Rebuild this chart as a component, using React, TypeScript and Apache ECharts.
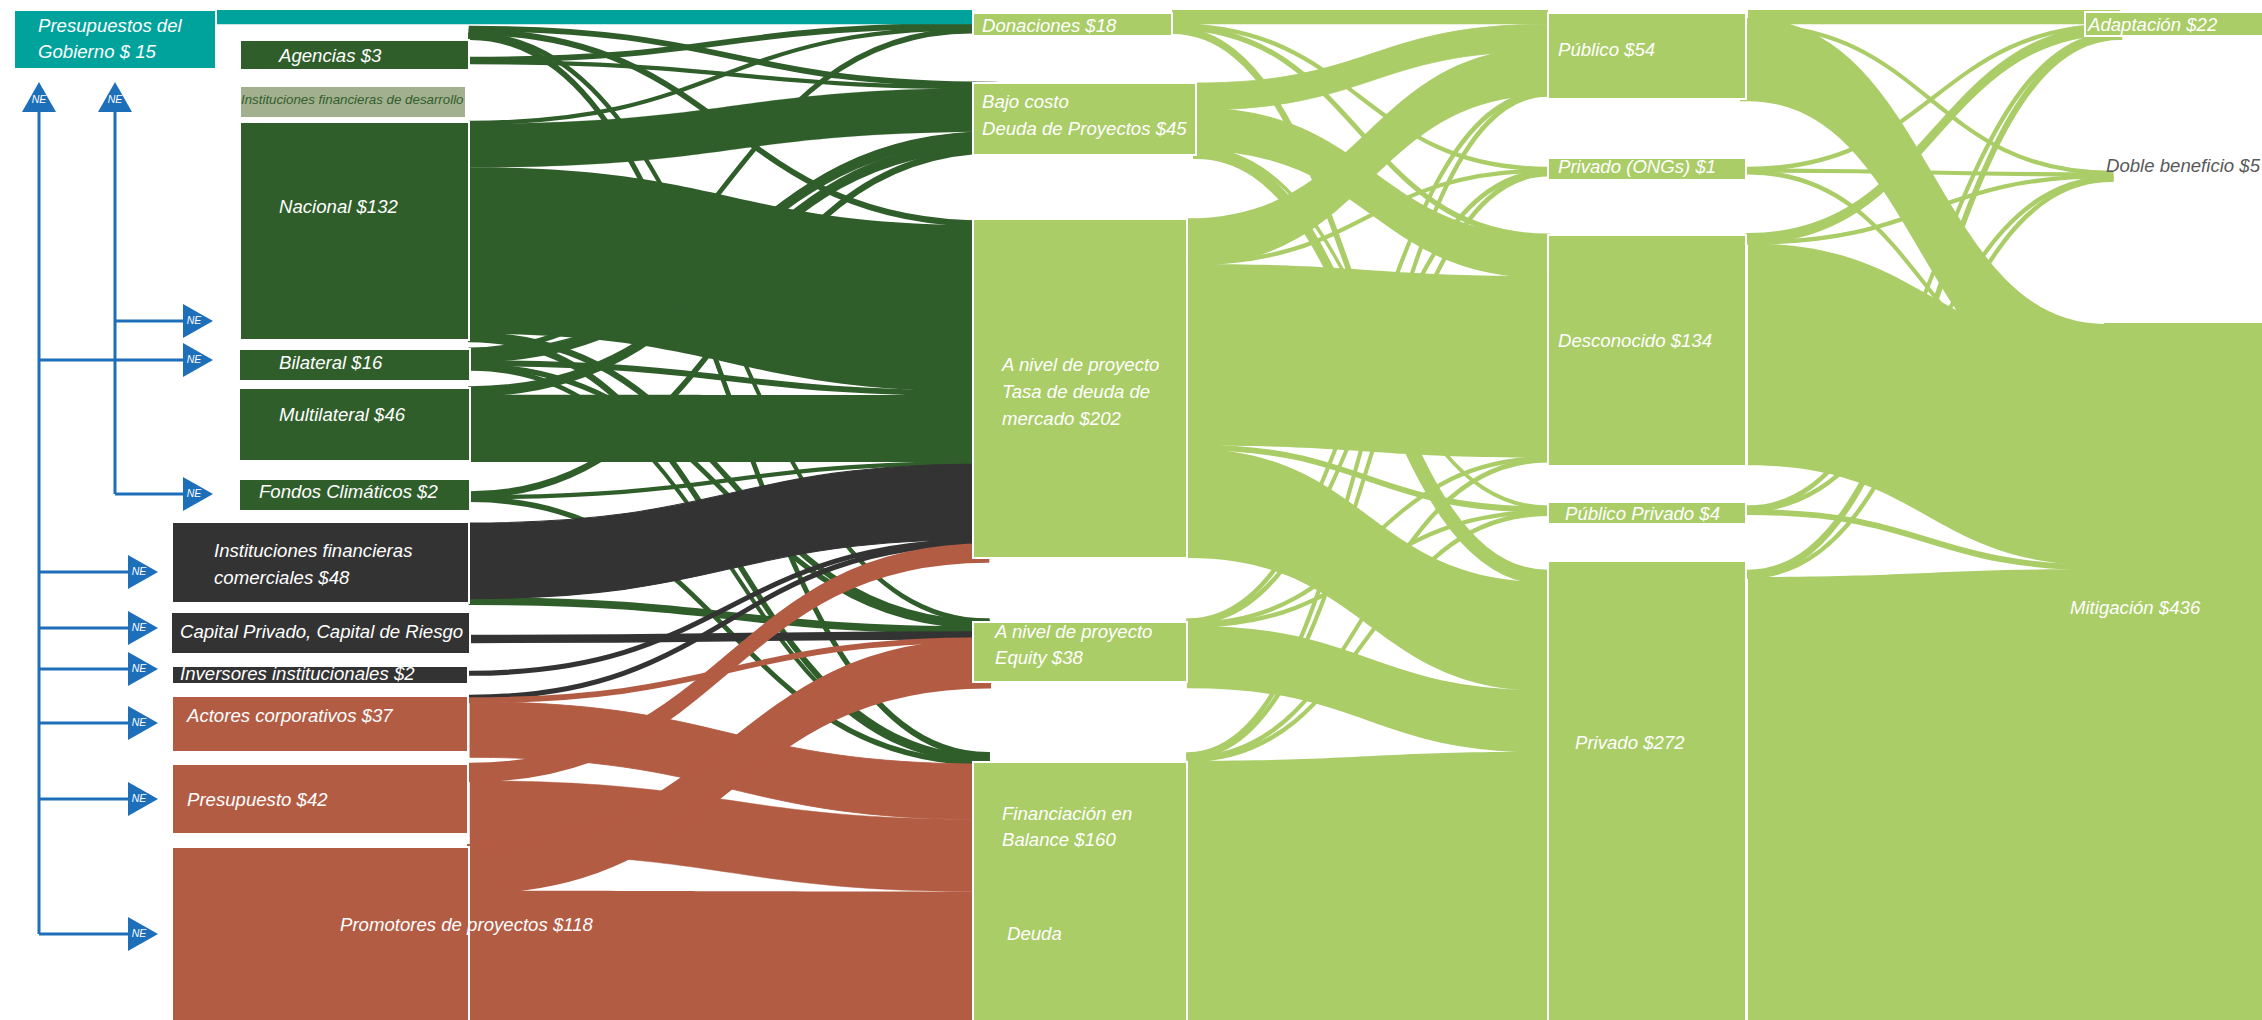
import React, { useEffect, useRef } from "react";
import * as echarts from "echarts";

// ---------- data ----------
const sourceNames = [
  "Presupuestos del Gobierno", "Agencias", "Instituciones financieras de desarrollo", "Nacional", "Bilateral",
  "Multilateral", "Fondos Climáticos", "Instituciones financieras comerciales", "Capital Privado, Capital de Riesgo",
  "Inversores institucionales", "Actores corporativos", "Presupuesto", "Promotores de proyectos",
];
const instrumentNames = ["Donaciones", "Bajo costo", "Tasa de mercado", "Equity", "Balance"];
const recipientNames = ["Público", "Privado (ONGs)", "Desconocido", "Público Privado", "Privado"];
const purposeNames = ["Adaptación", "Doble beneficio", "Mitigación", "Mitigación (base)"];

const tealFlows: [string, string, number][] = [["Presupuestos del Gobierno", "Donaciones", 8.5]];
const greenFlows: [string, string, number][] = [
  ["Agencias", "Bajo costo", 2], ["Agencias", "Tasa de mercado", 2], ["Agencias", "Equity", 1], ["Agencias", "Balance", 1.5],
  ["Instituciones financieras de desarrollo", "Donaciones", 2], ["Instituciones financieras de desarrollo", "Bajo costo", 1],
  ["Nacional", "Donaciones", 1], ["Nacional", "Bajo costo", 26], ["Nacional", "Tasa de mercado", 99], ["Nacional", "Equity", 2], ["Nacional", "Balance", 2],
  ["Bilateral", "Donaciones", 1.5], ["Bilateral", "Bajo costo", 6], ["Bilateral", "Tasa de mercado", 2], ["Bilateral", "Equity", 1.5], ["Bilateral", "Balance", 1],
  ["Multilateral", "Bajo costo", 4], ["Multilateral", "Tasa de mercado", 40],
  ["Fondos Climáticos", "Bajo costo", 2], ["Fondos Climáticos", "Tasa de mercado", 1], ["Fondos Climáticos", "Balance", 1.5],
  ["Instituciones financieras comerciales", "Equity", 3],
];
const blackFlows: [string, string, number][] = [
  ["Instituciones financieras comerciales", "Tasa de mercado", 45],
  ["Capital Privado, Capital de Riesgo", "Equity", 3.5],
  ["Inversores institucionales", "Tasa de mercado", 1.5],
  ["Actores corporativos", "Tasa de mercado", 1.5],
];
const redFlows: [string, string, number][] = [
  ["Actores corporativos", "Equity", 2], ["Actores corporativos", "Balance", 33],
  ["Presupuesto", "Tasa de mercado", 10], ["Presupuesto", "Balance", 43],
  ["Promotores de proyectos", "Equity", 26], ["Promotores de proyectos", "Balance", 100],
];
const lightFlows: [string, string, number][] = [
  ["Donaciones", "Público", 8.5], ["Donaciones", "Privado (ONGs)", 1], ["Donaciones", "Desconocido", 1.5], ["Donaciones", "Privado", 2],
  ["Bajo costo", "Público", 16], ["Bajo costo", "Desconocido", 23], ["Bajo costo", "Público Privado", 0.5], ["Bajo costo", "Privado", 4],
  ["Tasa de mercado", "Público", 24], ["Tasa de mercado", "Privado (ONGs)", 1], ["Tasa de mercado", "Desconocido", 108], ["Tasa de mercado", "Público Privado", 2], ["Tasa de mercado", "Privado", 65],
  ["Equity", "Público", 1], ["Equity", "Privado (ONGs)", 1], ["Equity", "Desconocido", 1], ["Equity", "Público Privado", 1], ["Equity", "Privado", 36],
  ["Balance", "Público", 1], ["Balance", "Privado (ONGs)", 1], ["Balance", "Desconocido", 1], ["Balance", "Público Privado", 1], ["Balance", "Privado", 172],
  ["Público", "Adaptación", 8.5], ["Público", "Doble beneficio", 1], ["Público", "Mitigación", 40],
  ["Privado (ONGs)", "Adaptación", 1], ["Privado (ONGs)", "Doble beneficio", 1], ["Privado (ONGs)", "Mitigación", 1],
  ["Desconocido", "Adaptación", 4], ["Desconocido", "Doble beneficio", 1], ["Desconocido", "Mitigación (base)", 132],
  ["Público Privado", "Adaptación", 1], ["Público Privado", "Doble beneficio", 1], ["Público Privado", "Mitigación (base)", 2],
  ["Privado", "Adaptación", 2], ["Privado", "Doble beneficio", 1], ["Privado", "Mitigación (base)", 272],
];

// ---------- layout and style ----------
const W = 2262;
const PAGE_H = 1020;
const PX_PER_UNIT = 1.68;
const NODE_W = 200;
const TEAL = "#00a39b";
const GREEN = "#305e2b";
const BLACK = "#333333";
const RED = "#b35c44";
const LIGHT = "#aacd67";
const BLUE = "#1e6fba";
const SAGE = "#a3b08f";

// where the ribbons of each node leave (x = left of a node NODE_W wide, y = top of its ribbon stack)
const ports: Record<string, [number, number]> = {
  "Presupuestos del Gobierno": [16, 10],
  Agencias: [270, 27],
  "Instituciones financieras de desarrollo": [270, 58],
  Nacional: [270, 122],
  Bilateral: [270, 349],
  Multilateral: [270, 388],
  "Fondos Climáticos": [270, 493],
  "Instituciones financieras comerciales": [270, 523],
  "Capital Privado, Capital de Riesgo": [270, 636],
  "Inversores institucionales": [270, 672],
  "Actores corporativos": [270, 696],
  Presupuesto: [270, 764],
  "Promotores de proyectos": [270, 847],
  Donaciones: [972, 10],
  "Bajo costo": [996, 83],
  "Tasa de mercado": [988, 222],
  Equity: [988, 620],
  Balance: [988, 754],
  Público: [1548, 10],
  "Privado (ONGs)": [1548, 168],
  Desconocido: [1548, 235],
  "Público Privado": [1548, 507],
  Privado: [1548, 572],
  Adaptación: [2120, 10],
  "Doble beneficio": [2112, 172],
  Mitigación: [2105, 332],
  "Mitigación (base)": [2105, 344],
};

// x0, y0, x1, y1, fill, stroke
const boxes: [number, number, number, number, string, string][] = [
  [14, 10, 216, 69, TEAL, "#fff"],
  [240, 40, 469, 70, GREEN, "#fff"],
  [240, 86, 466, 118, SAGE, "#fff"],
  [240, 122, 469, 340, GREEN, "#fff"],
  [239, 349, 470, 381, GREEN, "#fff"],
  [239, 388, 470, 461, GREEN, "#fff"],
  [239, 479, 470, 511, GREEN, "#fff"],
  [172, 522, 469, 603, BLACK, "#fff"],
  [171, 612, 470, 654, BLACK, "#fff"],
  [172, 666, 468, 684, BLACK, "#fff"],
  [172, 696, 468, 752, RED, "#fff"],
  [172, 764, 468, 834, RED, "#fff"],
  [172, 847, 469, 1040, RED, "#fff"],
  [973, 13, 1172, 36, LIGHT, "#fff"],
  [973, 83, 1196, 155, LIGHT, "#fff"],
  [973, 219, 1187, 558, LIGHT, "#fff"],
  [973, 622, 1187, 682, LIGHT, "#fff"],
  [973, 762, 1187, 1040, LIGHT, "#fff"],
  [1548, 13, 1746, 99, LIGHT, "#fff"],
  [1548, 158, 1746, 180, LIGHT, "#fff"],
  [1548, 235, 1746, 466, LIGHT, "#fff"],
  [1548, 502, 1746, 524, LIGHT, "#fff"],
  [1548, 561, 1746, 1040, LIGHT, "#fff"],
  [2085, 12, 2280, 36, LIGHT, "#fff"],
  [2105, 324, 2280, 1040, LIGHT, LIGHT],
];

// text, x, y, size, colour
const labels: [string, number, number, number, string][] = [
  ["Presupuestos del", 38, 25, 18.6, "#fff"], ["Gobierno $ 15", 38, 51, 18.6, "#fff"],
  ["Agencias $3", 279, 55, 18.6, "#fff"],
  ["Instituciones financieras de desarrollo", 241, 99, 13.3, GREEN],
  ["Nacional $132", 279, 206, 18.6, "#fff"],
  ["Bilateral $16", 279, 362, 18.6, "#fff"],
  ["Multilateral $46", 279, 414, 18.6, "#fff"],
  ["Fondos Climáticos $2", 259, 491, 18.6, "#fff"],
  ["Instituciones financieras", 214, 550, 18.6, "#fff"], ["comerciales $48", 214, 577, 18.6, "#fff"],
  ["Capital Privado, Capital de Riesgo", 180, 631, 18.6, "#fff"],
  ["Inversores institucionales $2", 180, 673, 18.6, "#fff"],
  ["Actores corporativos $37", 187, 715, 18.6, "#fff"],
  ["Presupuesto $42", 187, 799, 18.6, "#fff"],
  ["Promotores de proyectos $118", 340, 924, 18.6, "#fff"],
  ["Donaciones $18", 982, 25, 18.6, "#fff"],
  ["Bajo costo", 982, 101, 18.6, "#fff"], ["Deuda de Proyectos $45", 982, 128, 18.6, "#fff"],
  ["A nivel de proyecto", 1002, 364, 18.6, "#fff"], ["Tasa de deuda de", 1002, 391, 18.6, "#fff"], ["mercado $202", 1002, 418, 18.6, "#fff"],
  ["A nivel de proyecto", 995, 631, 18.6, "#fff"], ["Equity $38", 995, 657, 18.6, "#fff"],
  ["Financiación en", 1002, 813, 18.6, "#fff"], ["Balance $160", 1002, 839, 18.6, "#fff"],
  ["Deuda", 1007, 933, 18.6, "#fff"],
  ["Público $54", 1558, 49, 18.6, "#fff"],
  ["Privado (ONGs) $1", 1558, 166, 18.6, "#fff"],
  ["Desconocido $134", 1558, 340, 18.6, "#fff"],
  ["Público Privado $4", 1565, 513, 18.6, "#fff"],
  ["Privado $272", 1575, 742, 18.6, "#fff"],
  ["Adaptación $22", 2088, 24, 18.6, "#fff"],
  ["Doble beneficio $5", 2106, 165, 18.6, "#595959"],
  ["Mitigación $436", 2070, 607, 18.6, "#fff"],
];

const arrowLines: [number, number, number, number][] = [
  [39, 108, 39, 934], [115, 108, 115, 494], [115, 321, 186, 321], [39, 360, 186, 360], [115, 494, 186, 494],
  [39, 572, 130, 572], [39, 628, 130, 628], [39, 669, 130, 669], [39, 723, 130, 723], [39, 799, 130, 799], [39, 934, 130, 934],
];
// direction, tip x, tip y
const arrowHeads: ["up" | "right", number, number][] = [
  ["up", 39, 82], ["up", 115, 82],
  ["right", 213, 321], ["right", 213, 360], ["right", 213, 494],
  ["right", 158, 572], ["right", 158, 628], ["right", 158, 669], ["right", 158, 723], ["right", 158, 799], ["right", 158, 934],
];

const FONT = '"Liberation Sans", Arial, sans-serif';
const nodeOrder = [...sourceNames, ...instrumentNames, ...recipientNames, ...purposeNames];

// Where each ribbon really sits once the node's ribbons are stacked in the order the sankey layout uses.
function stackOffsets(all: [string, string, number][]) {
  const outOffset = new Map<[string, string, number], number>();
  const inOffset = new Map<[string, string, number], number>();
  for (const name of nodeOrder) {
    let sy = 0;
    all
      .filter((f) => f[0] === name)
      .sort((a, b) => nodeOrder.indexOf(a[1]) - nodeOrder.indexOf(b[1]))
      .forEach((f) => { outOffset.set(f, sy); sy += f[2] * PX_PER_UNIT; });
    let ty = 0;
    all
      .filter((f) => f[1] === name)
      .sort((a, b) => nodeOrder.indexOf(a[0]) - nodeOrder.indexOf(b[0]))
      .forEach((f) => { inOffset.set(f, ty); ty += f[2] * PX_PER_UNIT; });
  }
  return { outOffset, inOffset };
}

// The reference's ribbons keep their thickness across the slope; a sankey ribbon keeps it vertically,
// so a stroke of the ribbon's own colour makes up for what the slope takes away.
function buildLinks() {
  const groups: [[string, string, number][], string][] = [
    [greenFlows, GREEN], [lightFlows, LIGHT], [tealFlows, TEAL], [blackFlows, BLACK], [redFlows, RED],
  ];
  const all = groups.flatMap((g) => g[0]);
  const { outOffset, inOffset } = stackOffsets(all);
  const links: any[] = [];
  for (const [flows, color] of groups) {
    for (const f of flows) {
      const [source, target, value] = f;
      const y0 = ports[source][1] + outOffset.get(f)!;
      const y1 = ports[target][1] + inOffset.get(f)!;
      const run = Math.max(1, ports[target][0] - ports[source][0] - NODE_W);
      const slope = (1.5 * Math.abs(y1 - y0)) / run;
      const cos = 1 / Math.sqrt(1 + slope * slope);
      const thick = value * PX_PER_UNIT;
      const straight = Math.abs(y1 - y0) < 3;
      const stroke = straight || value > 60 ? 0 : Math.min(16, thick * (1 - cos)) + (value <= 4 ? 2.5 : 0);
      links.push({
        source, target, value,
        lineStyle: { color, opacity: 1, curveness: 0.5, borderColor: color, borderWidth: stroke },
      });
    }
  }
  return links;
}

function layoutHeight() {
  const all = [...tealFlows, ...greenFlows, ...blackFlows, ...redFlows, ...lightFlows];
  const size = (name: string) => {
    let i = 0;
    let o = 0;
    for (const [s, t, v] of all) {
      if (s === name) o += v;
      if (t === name) i += v;
    }
    return Math.max(i, o);
  };
  const cols = [sourceNames, instrumentNames, recipientNames, purposeNames];
  const maxSum = Math.max(...cols.map((c) => c.reduce((a, n) => a + size(n), 0)));
  return maxSum * PX_PER_UNIT;
}

export default function App() {
  const ref = useRef<HTMLDivElement>(null);
  useEffect(() => {
    const chart = echarts.init(ref.current!, undefined, { renderer: "svg" });
    const H = layoutHeight();
    const nodes = nodeOrder.map((name) => ({
      name,
      localX: ports[name][0] / W,
      localY: ports[name][1] / H,
      itemStyle: { color: "rgba(0,0,0,0)", borderWidth: 0, opacity: 0 },
    }));
    chart.setOption({
      animation: false,
      backgroundColor: "#fff",
      grid: { left: 0, right: 0, top: 0, bottom: 0 },
      xAxis: { type: "value", min: 0, max: W, show: false },
      yAxis: { type: "value", min: 0, max: PAGE_H, inverse: true, show: false },
      series: [
        {
          type: "sankey",
          left: 0,
          top: 0,
          width: W,
          height: H,
          nodeWidth: NODE_W,
          nodeGap: 0,
          layoutIterations: 0,
          draggable: false,
          silent: true,
          z: 2,
          label: { show: false },
          emphasis: { disabled: true },
          data: nodes,
          links: buildLinks(),
        },
        {
          type: "custom",
          coordinateSystem: "cartesian2d",
          silent: true,
          z: 3,
          clip: false,
          data: boxes.map((b) => [b[0], b[1], b[2], b[3]]),
          encode: { x: [0, 2], y: [1, 3] },
          renderItem: (params: any, api: any) => {
            const b = boxes[params.dataIndex];
            const p0 = api.coord([b[0], b[1]]);
            const p1 = api.coord([b[2], b[3]]);
            return {
              type: "rect",
              shape: { x: p0[0], y: p0[1], width: p1[0] - p0[0], height: p1[1] - p0[1] },
              style: { fill: b[4], stroke: b[5], lineWidth: 2 },
            };
          },
        },
        {
          type: "custom",
          coordinateSystem: "cartesian2d",
          silent: true,
          z: 4,
          clip: false,
          data: arrowLines.map((l) => [l[0], l[1], l[2], l[3]]),
          encode: { x: [0, 2], y: [1, 3] },
          renderItem: (params: any, api: any) => {
            const l = arrowLines[params.dataIndex];
            const a = api.coord([l[0], l[1]]);
            const b = api.coord([l[2], l[3]]);
            return {
              type: "line",
              shape: { x1: a[0], y1: a[1], x2: b[0], y2: b[1] },
              style: { stroke: BLUE, lineWidth: 3 },
            };
          },
        },
        {
          type: "custom",
          coordinateSystem: "cartesian2d",
          silent: true,
          z: 5,
          clip: false,
          data: arrowHeads.map((h) => [h[1], h[2]]),
          encode: { x: 0, y: 1 },
          renderItem: (params: any, api: any) => {
            const [dir, x, y] = arrowHeads[params.dataIndex];
            const t = api.coord([x, y]);
            const pts =
              dir === "up"
                ? [[t[0], t[1]], [t[0] + 17, t[1] + 30], [t[0] - 17, t[1] + 30]]
                : [[t[0], t[1]], [t[0] - 30, t[1] + 17], [t[0] - 30, t[1] - 17]];
            const lx = dir === "up" ? t[0] : t[0] - 19;
            const ly = dir === "up" ? t[1] + 17 : t[1] - 1;
            return {
              type: "group",
              children: [
                { type: "polygon", shape: { points: pts }, style: { fill: BLUE } },
                {
                  type: "text",
                  style: {
                    text: "NE", x: lx, y: ly, fill: "#fff", font: `italic 10.5px ${FONT}`,
                    align: "center", verticalAlign: "middle", textAlign: "center", textVerticalAlign: "middle",
                  },
                },
              ],
            };
          },
        },
        {
          type: "custom",
          coordinateSystem: "cartesian2d",
          silent: true,
          z: 6,
          clip: false,
          data: labels.map((l) => [l[1], l[2]]),
          encode: { x: 0, y: 1 },
          renderItem: (params: any, api: any) => {
            const [text, x, y, size, color] = labels[params.dataIndex];
            const p = api.coord([x, y]);
            return {
              type: "text",
              style: {
                text, x: p[0], y: p[1], fill: color, font: `italic ${size}px ${FONT}`,
                align: "left", verticalAlign: "middle", textAlign: "left", textVerticalAlign: "middle",
              },
            };
          },
        },
      ],
    });
    return () => chart.dispose();
  }, []);
  return <div ref={ref} style={{ position: "fixed", left: 0, top: 0, width: W, height: PAGE_H }} />;
}
